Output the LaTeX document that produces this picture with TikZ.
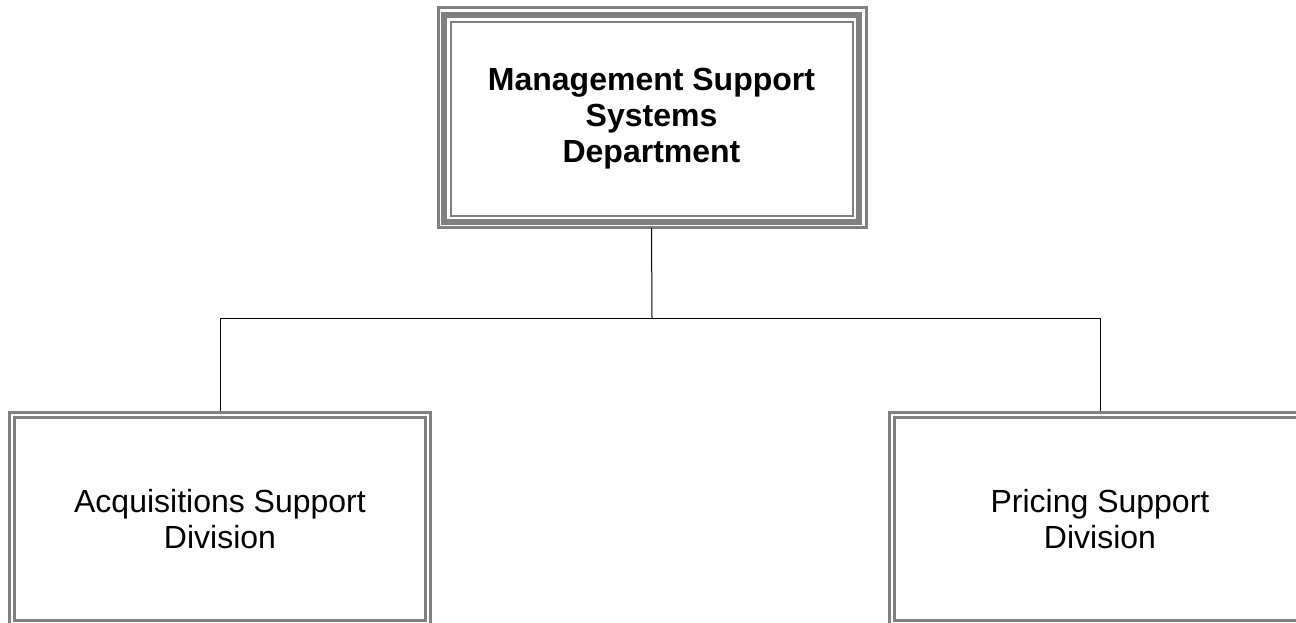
\documentclass[tikz,border=0pt]{standalone}
\usepackage{fontspec}
\setmainfont{Liberation Sans}
\usetikzlibrary{calc,positioning}
\definecolor{framegray}{RGB}{128,128,128}

\begin{document}
\begin{tikzpicture}[x=0.5pt,y=-0.5pt,
    deptbox/.style={draw=framegray,line width=3pt,outer sep=0pt,
                    minimum width=207.5pt,minimum height=103.5pt,
                    align=center,font=\fontsize{16}{18}\selectfont\bfseries},
    divbox/.style={draw=framegray,line width=1.5pt,double=white,double distance=1pt,
                   outer sep=0pt,minimum width=208pt,minimum height=104pt,
                   align=center,font=\fontsize{16}{18}\selectfont},
    link/.style={draw=black,line width=0.5pt}
  ]
  \useasboundingbox (0,0) rectangle (1296,622);

  % department
  \node[deptbox] (dept) at (651.5,118.5) {Management Support\\Systems\\Department};
  \draw[framegray,line width=1.5pt] ($(dept.north west)+(-5.5,-8)$) rectangle ($(dept.south east)+(7.5,5.5)$);
  \draw[framegray,line width=1pt] ($(dept.north west)+(6.5,6.5)$) rectangle ($(dept.south east)+(-6.5,-6.5)$);

  % divisions
  \node[divbox] (acq) at (220,519) {Acquisitions Support\\Division};
  \node[divbox] (pri) at (1100,519) {Pricing Support\ \\ Division};

  % connectors
  \coordinate (bus) at (652,318);
  \draw[link] ($(dept.south)+(0,6)$) -- (bus);
  \draw[link] (acq.north |- bus) -- (pri.north |- bus);
  \draw[link] (acq.north |- bus) -- ($(acq.north)+(0,-4)$);
  \draw[link] (pri.north |- bus) -- ($(pri.north)+(0,-4)$);
\end{tikzpicture}
\end{document}
